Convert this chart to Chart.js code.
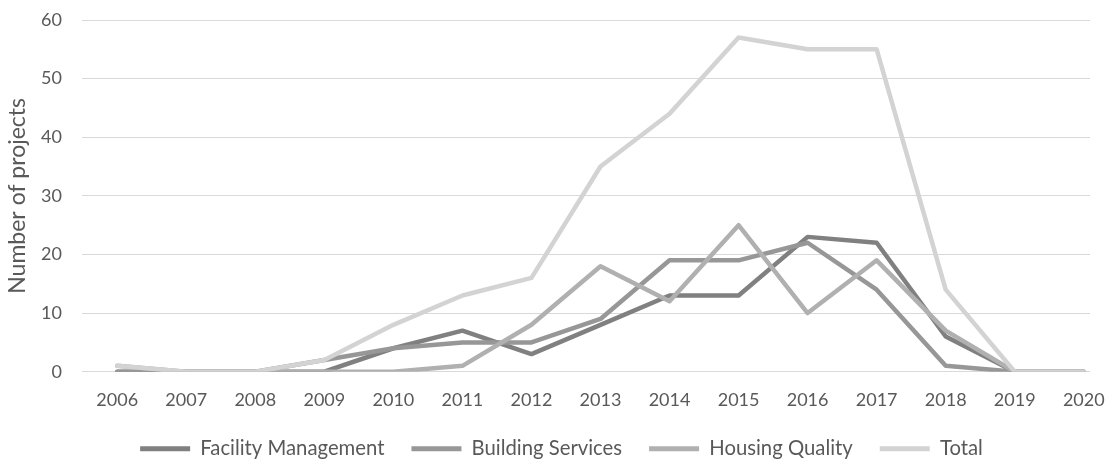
<!DOCTYPE html>
<html>
<head>
<meta charset="utf-8">
<script src="https://cdn.jsdelivr.net/npm/chart.js@4.4.1/dist/chart.umd.min.js"></script>
<style>
    body { margin: 0; background: #fff; }
    #wrap { width: 1115px; height: 464px; }
</style>
</head>
<body>
<div id="wrap"><canvas id="projectChart" width="1115" height="464"></canvas></div>
<script>
// ===== data =====
const years = [2006, 2007, 2008, 2009, 2010, 2011, 2012, 2013, 2014, 2015, 2016, 2017, 2018, 2019, 2020];
const facilityManagement = [0, 0, 0, 0, 4, 7, 3, 8, 13, 13, 23, 22, 6, 0, 0];
const buildingServices   = [0, 0, 0, 2, 4, 5, 5, 9, 19, 19, 22, 14, 1, 0, 0];
const housingQuality     = [1, 0, 0, 0, 0, 1, 8, 18, 12, 25, 10, 19, 7, 0, 0];
const total              = [1, 0, 0, 2, 8, 13, 16, 35, 44, 57, 55, 55, 14, 0, 0];
const yTicks = [0, 10, 20, 30, 40, 50, 60];

const seriesNames = ['Facility Management', 'Building Services', 'Housing Quality', 'Total'];
const seriesColors = ['#808080', '#979797', '#b0b0b0', '#d3d3d3'];
const seriesValues = [facilityManagement, buildingServices, housingQuality, total];

const textColor = '#595959';
const tickFont = { family: 'Lato', size: 18 };
const legendFont = { family: 'Lato', size: 20.3 };
const titleFont = { family: 'Lato', size: 23 };

function toPoints(values) {
    return years.map((yr, i) => ({ x: yr, y: values[i] }));
}

let datasets = seriesValues.map((vals, i) => ({
    label: seriesNames[i],
    data: toPoints(vals),
    borderColor: seriesColors[i],
    backgroundColor: seriesColors[i],
    borderWidth: 4.5,
    borderJoinStyle: 'round',
    borderCapStyle: 'round',
    pointRadius: 0,
    tension: 0,
    order: seriesValues.length - i   // later series drawn on top, like Excel
}));

const ctx = document.getElementById('projectChart').getContext('2d');
const myChart = new Chart(ctx, {
    type: 'line',
    data: { datasets: datasets },
    options: {
        responsive: false,
        animation: false,
        layout: { padding: { left: 33, right: 25, top: 20, bottom: -5 } },
        scales: {
            x: {
                type: 'linear',
                min: 2005.49,
                max: 2020.09,
                afterBuildTicks: (scale) => { scale.ticks = years.map(v => ({ value: v })); },
                afterFit: (scale) => {
                    scale.height = 40;
                    scale.paddingLeft = 0;
                    scale.paddingRight = 0;
                },
                grid: { display: false, drawTicks: false },
                border: { display: false },
                ticks: {
                    color: textColor, font: tickFont, padding: 18,
                    maxRotation: 0, autoSkip: false,
                    callback: (v) => String(v)
                }
            },
            y: {
                min: 0,
                max: 60,
                afterBuildTicks: (scale) => { scale.ticks = yTicks.map(v => ({ value: v })); },
                afterFit: (scale) => {
                    scale.width = 49;
                    scale.paddingTop = 0;
                    scale.paddingBottom = 0;
                },
                grid: { color: '#d9d9d9', lineWidth: 1, drawTicks: false },
                border: { display: false },
                ticks: { color: textColor, font: tickFont, padding: 20 },
                title: {
                    display: true,
                    text: 'Number of projects',
                    color: textColor,
                    font: titleFont,
                    padding: { top: -29, bottom: 0 }
                }
            }
        },
        plugins: {
            tooltip: { enabled: false },
            legend: {
                position: 'bottom',
                labels: {
                    color: textColor,
                    font: legendFont,
                    boxWidth: 50,
                    boxHeight: 5,
                    padding: 27,
                    // keep dataset order and draw plain line swatches
                    generateLabels: (chart) => chart.data.datasets.map((ds, i) => ({
                        text: ds.label,
                        fillStyle: ds.borderColor,
                        strokeStyle: ds.borderColor,
                        lineWidth: 0,
                        fontColor: textColor,
                        hidden: false,
                        datasetIndex: i
                    }))
                }
            }
        }
    }
});
</script>
</body>
</html>
